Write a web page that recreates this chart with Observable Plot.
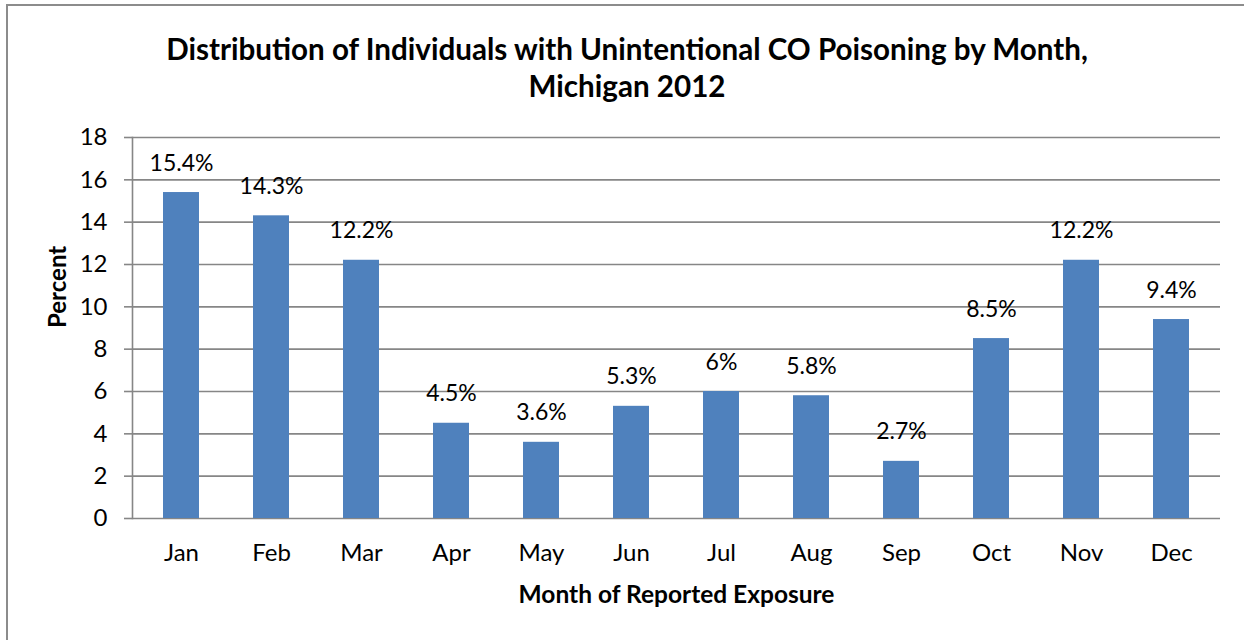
<!DOCTYPE html>
<html><head><meta charset="utf-8">
<script src="https://cdn.jsdelivr.net/npm/d3@7"></script>
<script src="https://cdn.jsdelivr.net/npm/@observablehq/plot@0.6"></script>
<style>
body{margin:0;background:#fff;}
#wrap{position:relative;width:1244px;height:640px;overflow:hidden;font-family:Lato,"Open Sans",sans-serif;}
#border{position:absolute;left:6px;top:4px;width:1260px;height:660px;border:2px solid #8c8c8c;box-sizing:border-box;}
#title{position:absolute;left:5px;width:1244px;top:30px;text-align:center;font-weight:bold;font-size:29.6px;line-height:37px;color:#000;}
#chart{position:absolute;left:0;top:0;}
</style></head>
<body><div id="wrap"><div id="border"></div>
<div id="title">Distribution of Individuals with Unintentional CO Poisoning by Month,<br>Michigan 2012</div>
<div id="chart"></div></div>
<script>
const months = ["Jan","Feb","Mar","Apr","May","Jun","Jul","Aug","Sep","Oct","Nov","Dec"];
const percents = [15.4,14.3,12.2,4.5,3.6,5.3,6,5.8,2.7,8.5,12.2,9.4];
const yTicks = [0,2,4,6,8,10,12,14,16,18];
const data = months.map((m,i)=>({month:m, value:percents[i], label: percents[i] + "%"}));

const chart = Plot.plot({
  width:1244, height:640,
  marginLeft:132, marginRight:24, marginTop:137, marginBottom:122,
  style:{fontFamily:"Lato, 'Open Sans', sans-serif", fontSize:"24px", color:"#000", background:"transparent"},
  x:{domain:months, paddingInner:0.6, paddingOuter:0.3, label:null},
  y:{domain:[0,18], label:null},
  marks:[
    Plot.ruleY(yTicks, {stroke:"#868686", strokeWidth:1.6}),
    Plot.frame({anchor:"left", stroke:"#868686", strokeWidth:1.6}),
    Plot.barY(data, {x:"month", y:"value", fill:"#4F81BD"}),
    Plot.text(data, {x:"month", y:"value", text:"label", lineAnchor:"bottom", dy:-22, fontSize:23, fill:"#000"}),
    Plot.axisY({ticks:yTicks, tickSize:8, tickPadding:17, stroke:"#868686", strokeWidth:1.6, fontSize:24, fill:"#000", tickFormat:d=>d, label:null}),
    Plot.axisX({tickSize:0, tickPadding:25, fontSize:24, fill:"#000", label:null}),
    Plot.text(["Month of Reported Exposure"], {frameAnchor:"bottom", dy:84, fontWeight:"bold", fontSize:24.5, fill:"#000"}),
    Plot.text(["Percent"], {frameAnchor:"left", dx:-74, rotate:-90, fontWeight:"bold", fontSize:24, fill:"#000"})
  ]
});
document.getElementById("chart").appendChild(chart);
</script></body></html>
